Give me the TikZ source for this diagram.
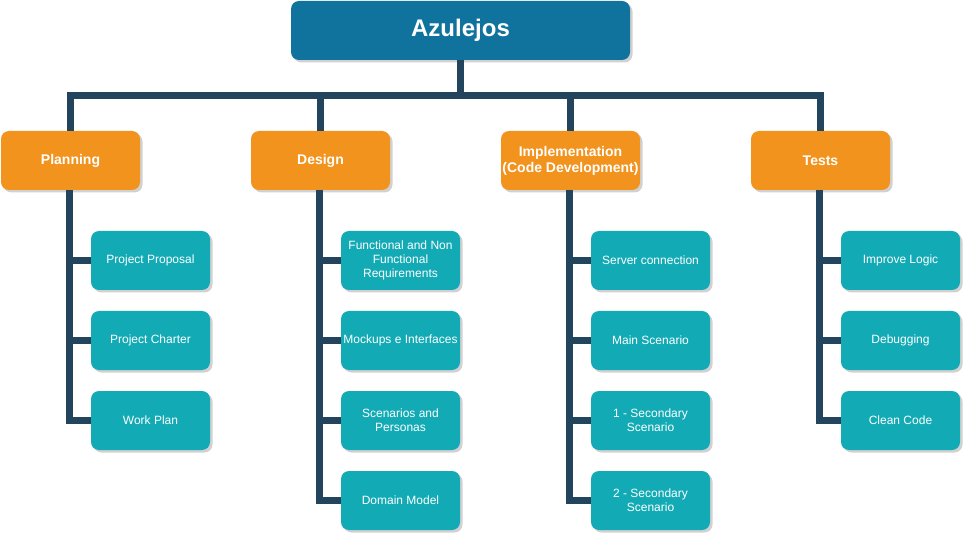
\documentclass[tikz,border=0pt]{standalone}
\usepackage{fontspec}
\setmainfont{Liberation Sans}
\usetikzlibrary{shadows}
\definecolor{rootc}{HTML}{10739E}
\definecolor{catc}{HTML}{F2931E}
\definecolor{leafc}{HTML}{12AAB5}
\definecolor{linec}{HTML}{23445D}
\tikzset{
  boxbase/.style={rounded corners=8pt, draw=none, text=white, align=center, inner sep=0pt,
    drop shadow={shadow xshift=2.5pt, shadow yshift=-2.5pt, fill=black!30, opacity=0.6}},
  rootbox/.style={boxbase, fill=rootc, minimum width=339pt, minimum height=59pt, font=\fontsize{24pt}{28pt}\selectfont\bfseries},
  catbox/.style={boxbase, fill=catc, minimum width=139pt, minimum height=59pt, font=\fontsize{14pt}{16pt}\selectfont\bfseries},
  leafbox/.style={boxbase, fill=leafc, minimum width=119pt, minimum height=59pt, font=\fontsize{12pt}{14pt}\selectfont},
  conn/.style={draw=linec, line width=7pt}
}
\begin{document}
\begin{tikzpicture}[x=1pt,y=-1pt]
\useasboundingbox (0,0) rectangle (963,534);
\node[rootbox] (root) at (460.5,30.5) {Azulejos};
\node[catbox] (plan) at (70.5,160.5) {Planning};
\node[catbox] (design) at (320.5,160.5) {Design};
\node[catbox] (impl) at (570.5,160.5) {Implementation\\(Code Development)};
\node[catbox] (tests) at (820.5,160.5) {Tests};
% Planning children
\node[leafbox] (p1) at (150.5,260.5) {Project Proposal};
\node[leafbox] (p2) at (150.5,340.5) {Project Charter};
\node[leafbox] (p3) at (150.5,420.5) {Work Plan};
% Design children
\node[leafbox] (d1) at (400.5,260.5) {Functional and Non\\Functional\\Requirements};
\node[leafbox] (d2) at (400.5,340.5) {Mockups e Interfaces};
\node[leafbox] (d3) at (400.5,420.5) {Scenarios and\\Personas};
\node[leafbox] (d4) at (400.5,500.5) {Domain Model};
% Implementation children
\node[leafbox] (i1) at (650.5,260.5) {Server connection};
\node[leafbox] (i2) at (650.5,340.5) {Main Scenario};
\node[leafbox] (i3) at (650.5,420.5) {1 - Secondary\\Scenario};
\node[leafbox] (i4) at (650.5,500.5) {2 - Secondary\\Scenario};
% Tests children
\node[leafbox] (t1) at (900.5,260.5) {Improve Logic};
\node[leafbox] (t2) at (900.5,340.5) {Debugging};
\node[leafbox] (t3) at (900.5,420.5) {Clean Code};
% root connectors
\begin{scope}[on background layer/.try]
\end{scope}
\coordinate (bus) at (460.5,95.5);
\foreach \c in {plan,design,impl,tests}{
  \draw[conn] (root.south) -- (bus) -| (\c.north);
}
\foreach \p/\k in {plan/p1,plan/p2,plan/p3,design/d1,design/d2,design/d3,design/d4,impl/i1,impl/i2,impl/i3,impl/i4,tests/t1,tests/t2,tests/t3}{
  \draw[conn] ([xshift=-1pt]\p.south) |- (\k.west);
}
\end{tikzpicture}
\end{document}
